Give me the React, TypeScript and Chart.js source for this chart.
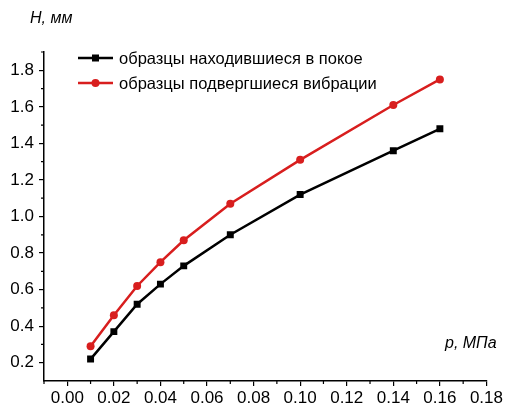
import React, { useEffect, useRef } from "react";
import { Chart, registerables } from "chart.js";

Chart.register(...registerables);

const pressure = [0.01, 0.02, 0.03, 0.04, 0.05, 0.07, 0.1, 0.14, 0.16];
const restHeights = [0.22, 0.37, 0.52, 0.63, 0.73, 0.9, 1.12, 1.36, 1.48];
const vibHeights = [0.29, 0.46, 0.62, 0.75, 0.87, 1.07, 1.31, 1.61, 1.75];
const xTicks = [0, 0.02, 0.04, 0.06, 0.08, 0.1, 0.12, 0.14, 0.16, 0.18];
const yTicks = [0.2, 0.4, 0.6, 0.8, 1.0, 1.2, 1.4, 1.6, 1.8];
const xMinorTicks = [-0.01, 0.01, 0.03, 0.05, 0.07, 0.09, 0.11, 0.13, 0.15, 0.17];
const yMinorTicks = [0.3, 0.5, 0.7, 0.9, 1.1, 1.3, 1.5, 1.7, 1.9];
const seriesNames = ["образцы находившиеся в покое", "образцы подвергшиеся вибрации"];
const yTitle = "H, мм";
const xTitle = "p, МПа";

const RED = "#d81e1e";
const FONT = "'Liberation Sans', Arial, sans-serif";

const overlay = {
  id: "overlay",
  afterDraw(chart: any) {
    const ctx = chart.ctx;
    const xs = chart.scales.x;
    const ys = chart.scales.y;
    ctx.save();
    // minor ticks
    ctx.strokeStyle = "#000";
    ctx.lineWidth = 1.2;
    ctx.beginPath();
    for (const v of xMinorTicks) {
      const px = xs.getPixelForValue(v);
      ctx.moveTo(px, xs.top);
      ctx.lineTo(px, xs.top + 3);
    }
    for (const v of yMinorTicks) {
      const py = ys.getPixelForValue(v);
      ctx.moveTo(ys.right, py);
      ctx.lineTo(ys.right - 3, py);
    }
    ctx.stroke();

    // axis titles
    ctx.fillStyle = "#000";
    ctx.font = "italic 16px " + FONT;
    ctx.textBaseline = "alphabetic";
    ctx.textAlign = "left";
    ctx.fillText(yTitle, 30, 23);
    ctx.fillText(xTitle, 445, 348);

    // legend
    const items = [
      { color: "#000", style: "rect", label: seriesNames[0], y: 58 },
      { color: RED, style: "circle", label: seriesNames[1], y: 83 },
    ];
    ctx.font = "16.5px " + FONT;
    ctx.textBaseline = "middle";
    for (const it of items) {
      ctx.strokeStyle = it.color;
      ctx.fillStyle = it.color;
      ctx.lineWidth = 2.5;
      ctx.beginPath();
      ctx.moveTo(78, it.y);
      ctx.lineTo(113, it.y);
      ctx.stroke();
      if (it.style === "rect") {
        ctx.fillRect(95.5 - 3.5, it.y - 3.5, 7, 7);
      } else {
        ctx.beginPath();
        ctx.arc(95.5, it.y, 4, 0, Math.PI * 2);
        ctx.fill();
      }
      ctx.fillStyle = "#000";
      ctx.fillText(it.label, 119, it.y + 1);
    }
    ctx.restore();
  },
};

export default function App() {
  const ref = useRef<HTMLCanvasElement | null>(null);
  useEffect(() => {
    document.body.style.margin = "0";
    const chart = new Chart(ref.current as HTMLCanvasElement, {
      type: "line",
      data: {
        datasets: [
          {
            label: seriesNames[0],
            data: pressure.map((x, i) => ({ x, y: restHeights[i] })),
            borderColor: "#000",
            backgroundColor: "#000",
            borderWidth: 2.5,
            pointStyle: "rect",
            pointRadius: 4.9,
            pointBorderWidth: 0,
            tension: 0,
          },
          {
            label: seriesNames[1],
            data: pressure.map((x, i) => ({ x, y: vibHeights[i] })),
            borderColor: RED,
            backgroundColor: RED,
            borderWidth: 2.5,
            pointStyle: "circle",
            pointRadius: 4,
            pointBorderWidth: 0,
            tension: 0,
          },
        ],
      },
      options: {
        animation: false,
        responsive: false,
        layout: { padding: { top: 52, right: 14, left: 0, bottom: 0 } },
        plugins: { legend: { display: false }, tooltip: { enabled: false } },
        scales: {
          x: {
            type: "linear",
            min: -0.01,
            max: 0.18,
            afterBuildTicks: (s: any) => {
              s.ticks = xTicks.map((v) => ({ value: v }));
            },
            afterFit: (s: any) => {
              s.height = 24;
            },
            grid: { drawOnChartArea: false, tickLength: 5, color: "#000", lineWidth: 1.2 },
            border: { display: true, color: "#000", width: 1.5 },
            ticks: {
              color: "#000",
              font: { size: 17, family: FONT },
              padding: 2,
              maxRotation: 0,
              autoSkip: false,
              callback: (v: any) => Number(v).toFixed(2),
            },
          },
          y: {
            type: "linear",
            min: 0.1,
            max: 1.9,
            afterBuildTicks: (s: any) => {
              s.ticks = yTicks.map((v) => ({ value: v }));
            },
            afterFit: (s: any) => {
              s.width = 44;
            },
            grid: { drawOnChartArea: false, tickLength: 5, color: "#000", lineWidth: 1.2 },
            border: { display: true, color: "#000", width: 1.5 },
            ticks: {
              color: "#000",
              font: { size: 17, family: FONT },
              padding: 5,
              autoSkip: false,
              callback: (v: any) => Number(v).toFixed(1),
            },
          },
        },
      },
      plugins: [overlay],
    } as any);
    return () => chart.destroy();
  }, []);
  return (
    <div style={{ position: "relative", width: 505, height: 405 }}>
      <canvas ref={ref} width={505} height={405} />
    </div>
  );
}
